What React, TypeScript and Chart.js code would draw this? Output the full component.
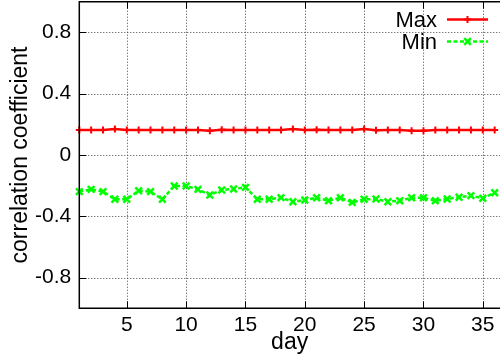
import React, { useEffect, useRef } from 'react';
import { Chart, registerables } from 'chart.js';

Chart.register(...registerables);

const days = [
  1, 2, 3, 4, 5, 6, 7, 8, 9, 10, 11, 12, 13, 14, 15, 16, 17, 18,
  19, 20, 21, 22, 23, 24, 25, 26, 27, 28, 29, 30, 31, 32, 33, 34, 35, 36,
];
const maxValues = [
  0.163, 0.163, 0.163, 0.17, 0.163, 0.163, 0.163, 0.163, 0.163, 0.163, 0.163, 0.159, 0.165, 0.163, 0.163, 0.163, 0.163, 0.163,
  0.17, 0.163, 0.165, 0.163, 0.163, 0.163, 0.17, 0.161, 0.163, 0.163, 0.159, 0.159, 0.163, 0.163, 0.163, 0.163, 0.163, 0.163,
];
const minValues = [
  -0.239, -0.224, -0.239, -0.289, -0.289, -0.233, -0.239, -0.289, -0.202, -0.202, -0.224, -0.261, -0.228, -0.222, -0.211, -0.289, -0.289, -0.278,
  -0.305, -0.294, -0.279, -0.298, -0.279, -0.309, -0.289, -0.287, -0.305, -0.298, -0.279, -0.279, -0.298, -0.287, -0.276, -0.265, -0.282, -0.246,
];
const xTicks = [5, 10, 15, 20, 25, 30, 35];
const yTicks = [-0.8, -0.4, 0, 0.4, 0.8];
const seriesNames = ['Max', 'Min'];
const xTitle = 'day';
const yTitle = 'correlation coefficient';

const FONT = '"Liberation Sans", Arial, Helvetica, sans-serif';
const TICK_SIZE = 21;
const LEGEND_SIZE = 22;
const TITLE_SIZE = 23;

const framePlugin = {
  id: 'gnuplotFrame',
  beforeDatasetsDraw(chart: any) {
    const { ctx, chartArea } = chart;
    const xs = chart.scales.x;
    const ys = chart.scales.y;
    const { left, right, top, bottom } = chartArea;
    ctx.save();
    ctx.strokeStyle = '#444';
    ctx.lineWidth = 1;
    ctx.setLineDash([1, 2]);
    xTicks.forEach((v) => {
      const px = Math.round(xs.getPixelForValue(v)) + 0.5;
      ctx.beginPath();
      ctx.moveTo(px, top);
      ctx.lineTo(px, bottom);
      ctx.stroke();
    });
    yTicks.forEach((v) => {
      const py = Math.round(ys.getPixelForValue(v)) + 0.5;
      ctx.beginPath();
      ctx.moveTo(left, py);
      ctx.lineTo(right, py);
      ctx.stroke();
    });
    ctx.setLineDash([]);
    ctx.strokeStyle = '#000';
    ctx.lineWidth = 1;
    const tl = 7;
    xTicks.forEach((v) => {
      const px = Math.round(xs.getPixelForValue(v)) + 0.5;
      ctx.beginPath();
      ctx.moveTo(px, bottom);
      ctx.lineTo(px, bottom - tl);
      ctx.moveTo(px, top);
      ctx.lineTo(px, top + tl);
      ctx.stroke();
    });
    yTicks.forEach((v) => {
      const py = Math.round(ys.getPixelForValue(v)) + 0.5;
      ctx.beginPath();
      ctx.moveTo(left, py);
      ctx.lineTo(left + tl, py);
      ctx.stroke();
    });
    ctx.restore();
  },
  afterDatasetsDraw(chart: any) {
    const { ctx, chartArea } = chart;
    const { left, right, top, bottom } = chartArea;
    ctx.save();
    ctx.strokeStyle = '#000';
    ctx.lineWidth = 1.5;
    ctx.setLineDash([]);
    ctx.beginPath();
    ctx.moveTo(right + 2, top);
    ctx.lineTo(left, top);
    ctx.lineTo(left, bottom);
    ctx.lineTo(right + 2, bottom);
    ctx.stroke();

    ctx.font = `${LEGEND_SIZE}px ${FONT}`;
    ctx.textAlign = 'right';
    ctx.textBaseline = 'middle';
    const rows = [
      { name: seriesNames[0], y: 19.5, color: '#ff0000', dash: [] as number[], style: 'cross' },
      { name: seriesNames[1], y: 41.5, color: '#00ff00', dash: [4, 2.5], style: 'crossRot' },
    ];
    rows.forEach((r) => {
      ctx.fillStyle = '#000';
      ctx.fillText(r.name, 437, r.y + 1);
      ctx.strokeStyle = r.color;
      ctx.lineWidth = 2.5;
      ctx.setLineDash(r.dash);
      ctx.beginPath();
      ctx.moveTo(447, r.y);
      ctx.lineTo(488, r.y);
      ctx.stroke();
      ctx.setLineDash([]);
      ctx.beginPath();
      if (r.style === 'cross') {
        ctx.lineWidth = 2;
        ctx.moveTo(467.5, r.y - 3.5);
        ctx.lineTo(467.5, r.y + 3.5);
        ctx.moveTo(464, r.y);
        ctx.lineTo(471, r.y);
      } else {
        ctx.lineWidth = 2.5;
        const d = 3.3;
        ctx.moveTo(467.5 - d, r.y - d);
        ctx.lineTo(467.5 + d, r.y + d);
        ctx.moveTo(467.5 - d, r.y + d);
        ctx.lineTo(467.5 + d, r.y - d);
      }
      ctx.stroke();
    });
    ctx.restore();
  },
};

export default function App() {
  const ref = useRef<HTMLCanvasElement | null>(null);
  useEffect(() => {
    if (!ref.current) return;
    const chart = new Chart(ref.current, {
      type: 'line',
      data: {
        datasets: [
          {
            label: seriesNames[0],
            data: days.map((d, i) => ({ x: d, y: maxValues[i] })),
            borderColor: '#ff0000',
            backgroundColor: '#ff0000',
            borderWidth: 2.5,
            pointStyle: 'cross',
            pointRadius: 3.5,
            pointBorderWidth: 2,
            pointBorderColor: '#ff0000',
            tension: 0,
            clip: false as any,
          },
          {
            label: seriesNames[1],
            data: days.map((d, i) => ({ x: d, y: minValues[i] })),
            borderColor: '#00ff00',
            backgroundColor: '#00ff00',
            borderWidth: 2.5,
            borderDash: [4, 2.5],
            pointStyle: 'crossRot',
            pointRadius: 4.7,
            pointBorderWidth: 2.5,
            pointBorderColor: '#00ff00',
            tension: 0,
            clip: false as any,
          },
        ],
      },
      options: {
        animation: false,
        responsive: false,
        devicePixelRatio: 1,
        layout: { autoPadding: false, padding: { top: 1.7, right: 0, left: 0, bottom: 0 } },
        plugins: {
          legend: { display: false },
          tooltip: { enabled: false },
        },
        scales: {
          x: {
            type: 'linear',
            min: 1,
            max: 36.45,
            afterBuildTicks: (s: any) => {
              s.ticks = xTicks.map((v) => ({ value: v }));
            },
            afterFit: (s: any) => {
              s.height = 54.7;
              s.paddingLeft = 0;
              s.paddingRight = 0;
              s.paddingTop = 0;
              s.paddingBottom = 0;
            },
            grid: { display: false, drawTicks: false },
            border: { display: false },
            ticks: {
              padding: 4,
              color: '#000',
              maxRotation: 0,
              autoSkip: false,
              font: { family: FONT, size: TICK_SIZE },
            },
            title: {
              display: true,
              text: xTitle,
              color: '#000',
              padding: { top: 0, bottom: 7 },
              font: { family: FONT, size: TITLE_SIZE },
            },
          },
          y: {
            type: 'linear',
            min: -1,
            max: 1,
            afterBuildTicks: (s: any) => {
              s.ticks = yTicks.map((v) => ({ value: v }));
            },
            afterFit: (s: any) => {
              s.width = 79.3;
              s.paddingLeft = 0;
              s.paddingRight = 0;
              s.paddingTop = 0;
              s.paddingBottom = 0;
            },
            grid: { display: false, drawTicks: false },
            border: { display: false },
            ticks: {
              padding: 8,
              color: '#000',
              autoSkip: false,
              font: { family: FONT, size: TICK_SIZE },
              callback: (v: any) => String(Math.round(Number(v) * 10) / 10),
            },
            title: {
              display: true,
              text: yTitle,
              color: '#000',
              padding: { top: 7, bottom: 0 },
              font: { family: FONT, size: TITLE_SIZE },
            },
          },
        },
      },
      plugins: [framePlugin],
    });
    return () => chart.destroy();
  }, []);

  return (
    <div style={{ position: 'fixed', left: 0, top: 0, width: 500, height: 363, background: '#fff' }}>
      <canvas ref={ref} width={500} height={363} style={{ width: 500, height: 363 }} />
    </div>
  );
}
